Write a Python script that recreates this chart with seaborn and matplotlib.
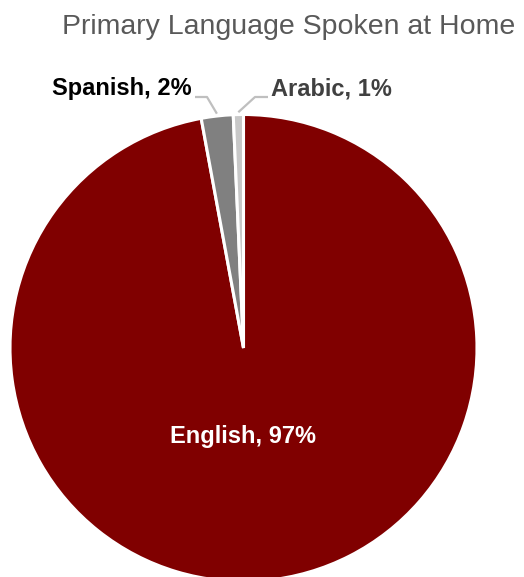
import numpy as np
import matplotlib
matplotlib.use("Agg")
import matplotlib.pyplot as plt
import seaborn as sns

languages = ["English", "Spanish", "Arabic"]
shares = [97.1, 2.2, 0.7]
labels = ["English, 97%", "Spanish, 2%", "Arabic, 1%"]
colours = ["#800000", "#808080", "#C8C8C8"]

sns.set_style("white")
plt.rcParams["font.family"] = ["Liberation Sans", "DejaVu Sans"]

W, H = 524, 577
fig = plt.figure(figsize=(W / 100, H / 100), dpi=100)
ax = fig.add_axes([0, 0, 1, 1])

cx, cy, r = 243.5, H - 348, 233.5
wedges, _ = ax.pie(shares, colors=colours, startangle=90, counterclock=False,
                   center=(cx, cy), radius=r, frame=True,
                   wedgeprops=dict(edgecolor="white", linewidth=2.2))
ax.set_xlim(0, W)
ax.set_ylim(0, H)
ax.set_aspect("equal")
ax.axis("off")

# English label inside the slice
ax.text(cx, H - 437, labels[0], color="white", fontsize=17,
        fontweight="bold", ha="center", va="center")

# outside labels with leader lines
spots = {1: dict(elbow=(207, H - 97), end=(195, H - 97), text=(192, H - 89),
                 ha="right", color="black"),
         2: dict(elbow=(255, H - 97), end=(268, H - 97), text=(271, H - 89),
                 ha="left", color="#404040")}
for i, s in spots.items():
    w = wedges[i]
    mid = np.deg2rad((w.theta1 + w.theta2) / 2)
    px, py = cx + r * 1.01 * np.cos(mid), cy + r * 1.01 * np.sin(mid)
    ax.plot([px, s["elbow"][0], s["end"][0]], [py, s["elbow"][1], s["end"][1]],
            color="#BFBFBF", linewidth=1.6, solid_capstyle="butt")
    ax.text(s["text"][0], s["text"][1], labels[i], color=s["color"],
            fontsize=17, fontweight="bold", ha=s["ha"], va="center")

fig.text(289 / W, 1 - 27 / H, "Primary Language Spoken at Home",
         color="#595959", fontsize=20.5, ha="center", va="center")

fig.savefig("out.png", dpi=100)
